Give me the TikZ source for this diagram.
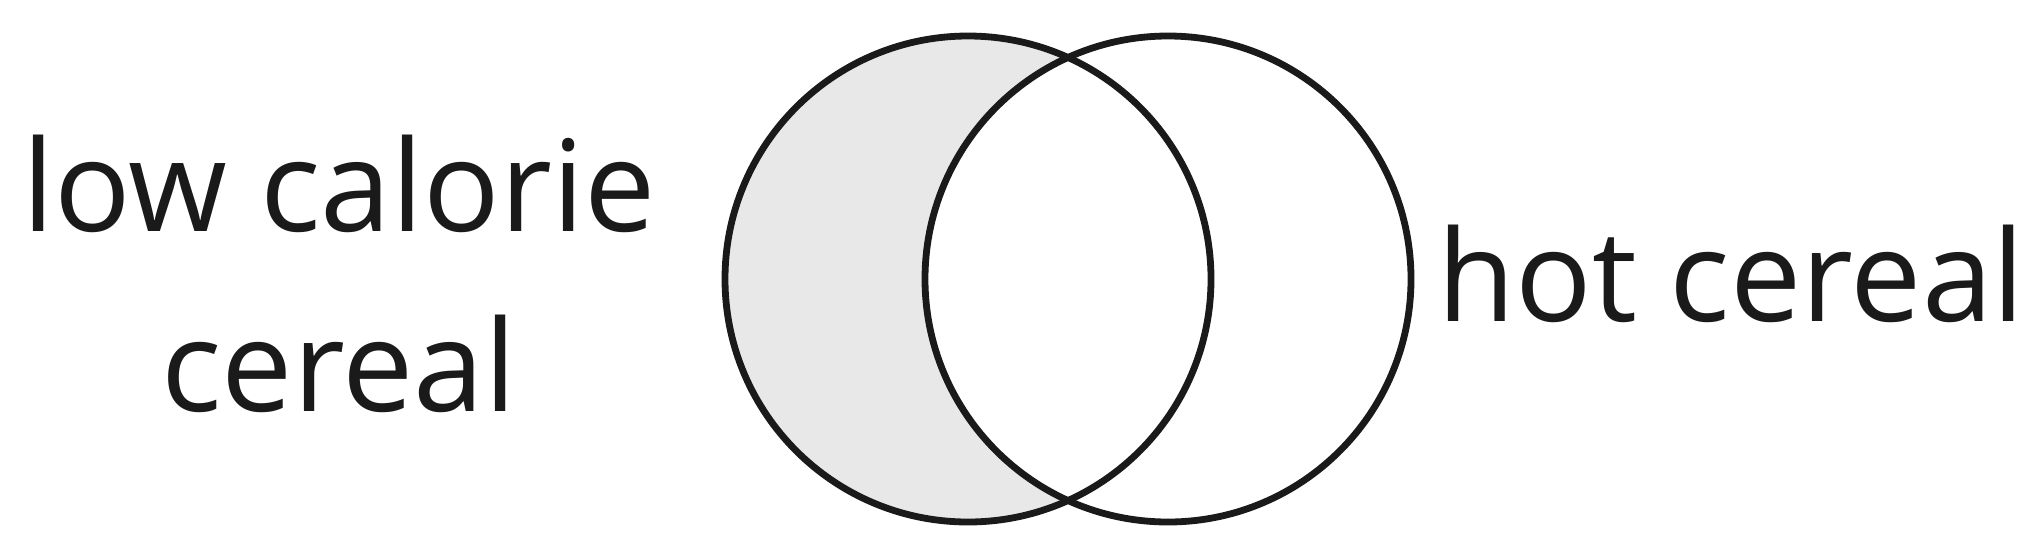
\documentclass[tikz,border=0pt]{standalone}
\usepackage{fontspec}
\setmainfont{Open Sans}
\definecolor{ink}{HTML}{1A1A1A}
\definecolor{crescentgray}{HTML}{E8E8E8}
\tikzset{
  setline/.style={draw=ink, line width=3.4pt},
  lbl/.style={text=ink, font=\fontsize{63.5}{90}\selectfont, inner sep=0pt, align=center}
}
\begin{document}
\begin{tikzpicture}[x=0.5pt, y=-0.5pt]
\useasboundingbox (0,0) rectangle (2037,558);
\coordinate (cl) at (968,279);
\coordinate (cr) at (1168,279);
\fill[crescentgray] (cl) circle[radius=243];
\fill[white] (cr) circle[radius=243];
\draw[setline] (cl) circle[radius=243];
\draw[setline] (cr) circle[radius=243];
\node[lbl, anchor=base] (low) at (339,411) {low calorie\\cereal};
\node[lbl, anchor=base west] (hot) at (1437,321) {hot cereal};
\end{tikzpicture}
\end{document}
